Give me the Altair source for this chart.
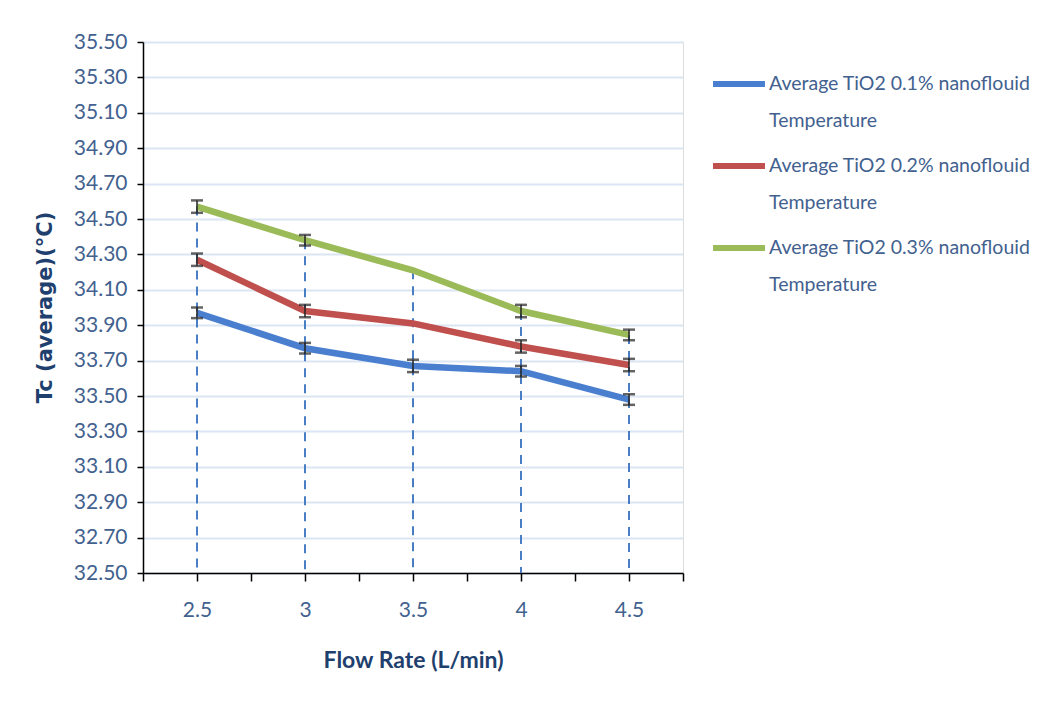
import altair as alt
import pandas as pd

# ---- data ----
flow = [2.5, 3, 3.5, 4, 4.5]
series = [
    "Average TiO2 0.1% nanoflouid Temperature",
    "Average TiO2 0.2% nanoflouid Temperature",
    "Average TiO2 0.3% nanoflouid Temperature",
]
tc_01 = [33.97, 33.77, 33.67, 33.64, 33.48]
tc_02 = [34.27, 33.98, 33.91, 33.78, 33.675]
tc_03 = [34.57, 34.38, 34.21, 33.98, 33.845]
err_01 = [0.03, 0.03, 0.035, 0.03, 0.03]
err_02 = [0.035, 0.035, 0.0, 0.035, 0.035]
err_03 = [0.035, 0.03, 0.0, 0.035, 0.03]
colors = ["#4A7FD0", "#C0504D", "#9BBB59"]
y_ticks = [32.5, 32.7, 32.9, 33.1, 33.3, 33.5, 33.7, 33.9, 34.1, 34.3,
           34.5, 34.7, 34.9, 35.1, 35.3, 35.5]
x_ticks = [2.25, 2.5, 2.75, 3, 3.25, 3.5, 3.75, 4, 4.25, 4.5, 4.75]
y_title = "Tc (average)(°C)"
x_title = "Flow Rate (L/min)"

rows = []
for name, vals, errs in zip(series, [tc_01, tc_02, tc_03], [err_01, err_02, err_03]):
    for f, v, e in zip(flow, vals, errs):
        rows.append({"flow": f, "tc": v, "err": e, "series": name})
df = pd.DataFrame(rows)

FONT = "Lato, 'DejaVu Sans Condensed', sans-serif"
LABEL_COL = "#42618F"
TITLE_COL = "#1F3F6E"

xscale = alt.Scale(domain=[2.25, 4.75], nice=False, zero=False)
yscale = alt.Scale(domain=[32.5, 35.5], nice=False, zero=False)

xaxis = alt.Axis(
    values=x_ticks, tickCount=20,
    labelExpr="indexof([2.5,3,3.5,4,4.5], datum.value) >= 0 ? toString(datum.value) : ''",
    title=x_title, grid=False, tickSize=8, tickColor="black", domainColor="black",
    domainWidth=1.5, tickWidth=1.5, labelFont=FONT, labelFontSize=21,
    labelColor=LABEL_COL, labelPadding=18, labelOverlap=False,
    titleFont=FONT, titleFontSize=23,
    titleFontWeight="bold", titleColor=TITLE_COL, titleX=270, titleY=87,
    titleBaseline="middle", titleAlign="center",
)
yaxis = alt.Axis(
    values=y_ticks, tickCount=30, format=".2f", title=y_title, grid=True,
    gridColor="#DCE6F2", gridWidth=2, tickSize=6, tickColor="black",
    domainColor="black", domainWidth=1.5,
    tickWidth=1.5, labelFont=FONT, labelFontSize=21, labelColor=LABEL_COL,
    labelPadding=10, labelOverlap=False,
    titleFont="'DejaVu Sans', sans-serif", titleFontSize=21,
    titleFontWeight="bold", titleColor=TITLE_COL, titleX=-98, titleY=265,
    titleAngle=-90, titleBaseline="middle", titleAlign="center",
)

base = alt.Chart(df)

drop = base.transform_aggregate(top="max(tc)", groupby=["flow"]).mark_rule(
    color="#4A7EC4", strokeWidth=2, strokeDash=[9, 7]
).encode(
    x=alt.X("flow:Q", scale=xscale, axis=xaxis),
    y=alt.Y("top:Q", scale=yscale, axis=yaxis),
    y2=alt.datum(32.5),
)

lines = base.mark_line(strokeWidth=6.5).encode(
    x=alt.X("flow:Q", scale=xscale, axis=xaxis),
    y=alt.Y("tc:Q", scale=yscale, axis=yaxis),
    color=alt.Color(
        "series:N",
        scale=alt.Scale(domain=series, range=colors),
        legend=alt.Legend(
            orient="none", legendX=567, legendY=13, title=None,
            symbolType="stroke", symbolStrokeWidth=6, symbolSize=2700,
            labelExpr="[replace(datum.label, ' Temperature', ''), 'Temperature']",
            labelFont=FONT, labelFontSize=19.5, labelColor=LABEL_COL,
            labelLimit=600, labelOffset=1, rowPadding=6, padding=0,
            labelBaseline="middle",
        ),
    ),
)

errs = base.transform_filter("datum.err > 0").transform_calculate(
    lo="datum.tc - datum.err", hi="datum.tc + datum.err"
)
stems = errs.mark_rule(color="#222222", strokeWidth=1.5).encode(
    x="flow:Q", y="lo:Q", y2="hi:Q"
)
caps = errs.transform_fold(["lo", "hi"], as_=["end", "val"]).mark_tick(
    orient="horizontal", color="#222222", size=12, thickness=2.5
).encode(x="flow:Q", y="val:Q")

chart = alt.layer(drop, lines, stems, caps).properties(
    width=540, height=531,
    autosize=alt.AutoSizeParams(type="none"),
    padding={"left": 135, "top": 34, "right": 372, "bottom": 139},
    background="white",
).configure_view(stroke=None).configure(
    style={"guide-label": {"lineHeight": 37}}
)

chart.save("out.html", embed_options={"renderer": "svg", "actions": False})
